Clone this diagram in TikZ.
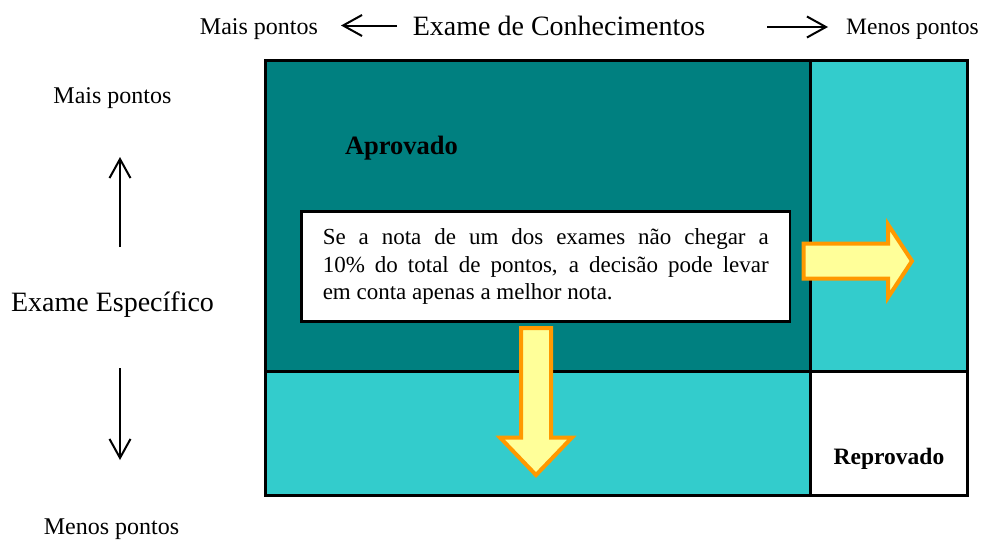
\documentclass[tikz,border=0pt]{standalone}
\usepackage{fontspec}
\setmainfont{Liberation Serif}
\usetikzlibrary{arrows.meta}
\definecolor{tealdark}{RGB}{0,128,128}
\definecolor{cyanlight}{RGB}{51,204,204}
\definecolor{arrowfill}{RGB}{255,255,153}
\definecolor{arroworange}{RGB}{255,153,0}
\begin{document}
\begin{tikzpicture}[x=1pt,y=-1pt,
  lbl/.style={inner sep=0pt, anchor=base},
  axisarrow/.style={line width=2pt, -{Straight Barb[length=19pt,width=21pt]}},
  blockarrow/.style={fill=arrowfill, draw=arroworange, line width=4pt, line join=miter},
  gridline/.style={draw=black, line width=3pt}
]
\useasboundingbox (0,0) rectangle (983,539);

% regions
\fill[tealdark] (265,60) rectangle (810,371.5);
\fill[cyanlight] (810,60) rectangle (967.5,371.5);
\fill[cyanlight] (265,371.5) rectangle (810,495.5);
\fill[white] (810,371.5) rectangle (967.5,495.5);
\draw[gridline] (265,60) rectangle (967.5,495.5);
\draw[gridline] (810,60) -- (810,495.5);
\draw[gridline] (265,371.5) -- (967.5,371.5);

% labels
\node[lbl, font=\fontsize{24}{28}\selectfont] (maistop) at (259,34) {Mais pontos};
\node[lbl, font=\fontsize{28}{32}\selectfont] (conhec) at (559,35) {Exame de Conhecimentos};
\node[lbl, font=\fontsize{23.5}{28}\selectfont] (menostop) at (912.5,34.3) {Menos pontos};
\node[lbl, font=\fontsize{24}{28}\selectfont] (maisleft) at (112.5,103) {Mais pontos};
\node[lbl, font=\fontsize{28}{32}\selectfont] (especifico) at (112.5,311) {Exame Específico};
\node[lbl, font=\fontsize{24}{28}\selectfont] (menosleft) at (111.5,534) {Menos pontos};
\node[lbl, font=\bfseries\fontsize{26.5}{30}\selectfont] (aprovado) at (401.5,154) {Aprovado};
\node[lbl, font=\bfseries\fontsize{23.5}{28}\selectfont] (reprovado) at (889,464) {Reprovado};

% axis arrows
\coordinate (lefttail) at (397,25.5);
\coordinate (lefttip) at (341,25.5);
\coordinate (righttail) at (767,27);
\coordinate (righttip) at (828,27);
\coordinate (uptail) at (120,247);
\coordinate (uptip) at (120,157);
\coordinate (downtail) at (120,368);
\coordinate (downtip) at (120,460);
\draw[axisarrow] (lefttail) -- (lefttip);
\draw[axisarrow] (righttail) -- (righttip);
\draw[axisarrow] (uptail) -- (uptip);
\draw[axisarrow] (downtail) -- (downtip);

% note box
\node[draw=black, line width=2.5pt, fill=white, text width=446pt, inner xsep=21.25pt,
      minimum height=110pt, align=justify,
      font=\fontsize{23}{27.3}\selectfont] (note) at (545.75,266.5)
  {Se a nota de um dos exames não chegar a\linebreak 10\% do total de pontos, a decisão pode levar\linebreak em conta apenas a melhor nota.};

% block arrows
\draw[blockarrow] (803.5,243.5) -- (888,243.5) -- (888,224.5) -- (912,261)
  -- (888,297.5) -- (888,278.5) -- (803.5,278.5) -- cycle;
\draw[blockarrow] (521,328) -- (551,328) -- (551,437.5) -- (572,437.5)
  -- (536,475) -- (500,437.5) -- (521,437.5) -- cycle;
\end{tikzpicture}
\end{document}
